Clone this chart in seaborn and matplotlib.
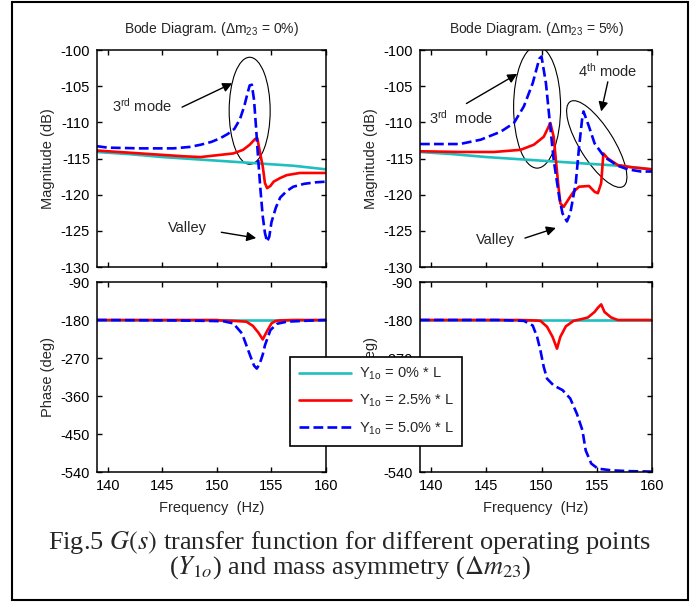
import matplotlib
matplotlib.use("Agg")
import matplotlib.pyplot as plt
import seaborn as sns
import numpy as np
import pandas as pd
from matplotlib.patches import Ellipse, Rectangle
from matplotlib.transforms import ScaledTranslation

# ---- data ----
# cyan: Y1o = 0% * L (same in both panels)
cyan_freq = [139, 142, 145, 148, 151, 154, 157, 160]
cyan_mag = [-114.1, -114.4, -114.8, -115.1, -115.4, -115.7, -116.0, -116.5]
cyan_phase = [-180, -180, -180, -180, -180, -180, -180, -180]

# left panel (dm23 = 0%)
red0_freq = [139, 141, 143, 145, 147, 148.5, 150.3, 151.5, 152.4, 153.0, 153.5, 153.7, 153.9,
             154.2, 154.4, 154.6, 154.9, 155.2, 155.8, 156.4, 157.6, 160]
red0_mag = [-113.9, -114.1, -114.3, -114.5, -114.7, -114.8, -114.5, -114.3, -113.8, -113.1, -112.3,
            -112.2, -113.8, -116.1, -118.4, -119.1, -118.8, -118.2, -117.7, -117.3, -117.0, -117.0]
blue0_freq = [139, 140, 143, 146, 147.5, 148.5, 149.5, 150.3, 151.0, 151.6, 152.1, 152.5, 152.8,
              153.0, 153.2, 153.4, 153.6, 153.8, 154.0, 154.2, 154.4, 154.6, 154.8, 155.0, 155.4,
              155.8, 156.4, 157.0, 158.0, 159.0, 160]
blue0_mag = [-113.3, -113.5, -113.6, -113.6, -113.4, -113.1, -112.7, -112.2, -111.6, -110.9, -109.6,
             -107.8, -106.0, -104.9, -104.8, -106.9, -111.0, -115.5, -119.5, -123.0, -125.3, -126.5,
             -125.8, -123.8, -121.8, -120.4, -119.5, -118.9, -118.5, -118.3, -118.2]
red0_pfreq = [139, 150, 150.3, 151.5, 152.7, 153.3, 153.8, 154.2, 154.6, 155.0, 155.4, 155.8, 157, 160]
red0_phase = [-180, -180, -181, -182, -184, -194, -210, -226, -206, -188, -182, -181, -180, -180]
blue0_pfreq = [139, 146, 149, 150.6, 151.5, 152.3, 152.7, 153.1, 153.4, 153.65, 153.9, 154.2, 154.4,
               154.9, 155.5, 156.4, 158, 160]
blue0_phase = [-180, -181, -182, -183, -188, -212, -240, -268, -288, -295, -285, -262, -240, -204,
               -189, -184, -182, -180]

# right panel (dm23 = 5%)
red5_freq = [139, 142.6, 145.7, 148.1, 149.3, 150.2, 150.8, 151.1, 151.3, 151.5, 151.7, 152.0, 152.5,
             152.9, 153.4, 154.3, 154.8, 155.1, 155.4, 155.6, 156.0, 156.9, 158.1, 160]
red5_mag = [-114.0, -114.1, -114.1, -113.8, -113.1, -112.0, -110.1, -112.0, -115.2, -118.4, -121.2,
            -121.7, -120.5, -119.6, -118.9, -118.8, -119.6, -119.8, -118.4, -114.3, -115.0, -115.9,
            -116.2, -116.5]
blue5_freq = [139, 142.6, 144.5, 146.3, 147.5, 148.4, 149.2, 149.8, 150.0, 150.4, 150.7, 151.1, 151.6,
              151.9, 152.3, 152.6, 153.1, 153.4, 153.7, 153.8, 154.3, 154.8, 155.7, 156.9, 157.8,
              159.0, 160]
blue5_mag = [-113.0, -113.0, -112.4, -111.3, -110.1, -107.8, -104.6, -101.2, -100.9, -104.6, -109.2,
             -115.2, -120.3, -122.6, -123.7, -122.6, -118.4, -113.4, -109.2, -108.5, -110.6, -112.9,
             -114.8, -116.0, -116.5, -116.8, -116.8]
red5_pfreq = [139, 148, 149.3, 149.9, 150.5, 151.0, 151.4, 151.7, 152.2, 152.9, 153.6, 154.2, 154.8,
              155.1, 155.4, 155.7, 156.3, 156.9, 160]
red5_phase = [-180, -180, -181, -182, -196, -220, -248, -220, -195, -182, -178, -174, -161, -151,
              -143, -161, -174, -180, -180]
blue5_pfreq = [139, 146, 148.4, 149.2, 149.6, 149.9, 150.2, 150.5, 151.1, 151.9, 152.6, 153.2, 153.7,
               154.0, 154.5, 155.1, 156.3, 158, 160]
blue5_phase = [-180, -180, -182, -193, -220, -252, -291, -319, -335, -346, -366, -402, -441, -489,
               -520, -532, -536, -538, -539]

labels = ['Y$\\mathregular{_{1o}}$ = 0% * L', 'Y$\\mathregular{_{1o}}$ = 2.5% * L',
          'Y$\\mathregular{_{1o}}$ = 5.0% * L']
titles = ['Bode Diagram. (\u0394m$\\mathregular{_{23}}$ = 0%)',
          'Bode Diagram. (\u0394m$\\mathregular{_{23}}$ = 5%)']

CYAN = '#1fbfbf'
RED = '#ff0000'
BLUE = '#0000ff'

sns.set_style("ticks")
plt.rcParams['font.family'] = ['Liberation Sans', 'DejaVu Sans']
plt.rcParams['axes.unicode_minus'] = False
plt.rcParams['xtick.direction'] = 'in'
plt.rcParams['ytick.direction'] = 'in'
plt.rcParams['xtick.top'] = True
plt.rcParams['ytick.right'] = True
plt.rcParams['axes.linewidth'] = 1.1
plt.rcParams['xtick.major.width'] = 1.0
plt.rcParams['ytick.major.width'] = 1.0
plt.rcParams['xtick.major.size'] = 3.5
plt.rcParams['ytick.major.size'] = 3.5

W, H = 692, 602
fig = plt.figure(figsize=(W / 100, H / 100), dpi=100)


def add_ax(x0, x1, y0, y1):
    return fig.add_axes([x0 / W, 1 - y1 / H, (x1 - x0) / W, (y1 - y0) / H])


ax_m0 = add_ax(97, 326, 50, 267)
ax_p0 = add_ax(97, 326, 282, 472)
ax_m5 = add_ax(420, 652, 50, 267)
ax_p5 = add_ax(420, 652, 282, 472)

lw = 1.9


def draw(ax, red_y, blue_y, cyan_y, red_x, blue_x, lab=None):
    sns.lineplot(x=cyan_freq, y=cyan_y, ax=ax, color=CYAN, lw=lw, label=lab[0] if lab else None)
    sns.lineplot(x=red_x, y=red_y, ax=ax, color=RED, lw=lw, label=lab[1] if lab else None)
    sns.lineplot(x=blue_x, y=blue_y, ax=ax, color=BLUE, lw=lw, linestyle='--', dashes=(4, 2.6),
                 label=lab[2] if lab else None)


draw(ax_m0, red0_mag, blue0_mag, cyan_mag, red0_freq, blue0_freq, labels)
draw(ax_p0, red0_phase, blue0_phase, cyan_phase, red0_pfreq, blue0_pfreq)
draw(ax_m5, red5_mag, blue5_mag, cyan_mag, red5_freq, blue5_freq)
draw(ax_p5, red5_phase, blue5_phase, cyan_phase, red5_pfreq, blue5_pfreq)

handles, _ = ax_m0.get_legend_handles_labels()
ax_m0.get_legend().remove()

fs = 10.5
for ax, t in [(ax_m0, titles[0]), (ax_m5, titles[1])]:
    ax.set_ylim(-130, -100)
    ax.set_yticks(np.arange(-130, -99, 5))
    ax.set_ylabel('Magnitude (dB)', fontsize=fs, labelpad=4)
    ax.set_title(t, fontsize=10, pad=12)
for ax in [ax_p0, ax_p5]:
    ax.set_ylim(-540, -90)
    ax.set_yticks(np.arange(-540, -89, 90))
    ax.set_ylabel('Phase (deg)', fontsize=fs, labelpad=4)
    ax.set_xlabel('Frequency  (Hz)', fontsize=fs, labelpad=6)
for ax in [ax_m0, ax_m5, ax_p0, ax_p5]:
    ax.set_xlim(139, 160)
    ax.set_xticks([140, 145, 150, 155, 160])
    ax.tick_params(labelsize=fs, colors='k', pad=5)
    for s in ax.spines.values():
        s.set_color('k')
for ax in [ax_m0, ax_m5]:
    ax.set_xlabel('')
    ax.set_xticklabels([])


def ellipse(ax, f, m, w_px, h_px, angle=0):
    tr = fig.dpi_scale_trans + ScaledTranslation(f, m, ax.transData)
    e = Ellipse((0, 0), w_px / 100, h_px / 100, angle=angle, transform=tr,
                fill=False, edgecolor='k', lw=0.8)
    ax.add_artist(e)


arrow = dict(arrowstyle='-|>', color='k', lw=1.0, mutation_scale=14, shrinkA=0, shrinkB=0)
afs = 10.5

# left annotations
ellipse(ax_m0, 153.0, -108.4, 41, 107)
ax_m0.text(140.4, -107.7, '3$\\mathregular{^{rd}}$ mode', fontsize=afs, va='center', ha='left')
ax_m0.annotate('', xy=(151.4, -104.6), xytext=(146.8, -107.9), arrowprops=arrow)
ax_m0.text(147.3, -124.6, 'Valley', fontsize=afs, va='center', ha='center')
ax_m0.annotate('', xy=(153.6, -126.0), xytext=(150.4, -125.2), arrowprops=arrow)

# right annotations
ellipse(ax_m5, 149.6, -107.9, 47, 122)
ellipse(ax_m5, 155.0, -113.0, 100, 34, angle=-58)
ax_m5.text(139.8, -109.3, '3$\\mathregular{^{rd}}$  mode', fontsize=afs, va='center', ha='left')
ax_m5.annotate('', xy=(147.8, -103.3), xytext=(143.2, -107.4), arrowprops=arrow)
ax_m5.text(156.0, -102.9, '4$\\mathregular{^{th}}$ mode', fontsize=afs, va='center', ha='center')
ax_m5.annotate('', xy=(155.4, -108.5), xytext=(156.0, -104.4), arrowprops=arrow)
ax_m5.text(145.8, -126.2, 'Valley', fontsize=afs, va='center', ha='center')
ax_m5.annotate('', xy=(151.3, -124.6), xytext=(148.5, -126.0), arrowprops=arrow)

leg = fig.legend(handles, labels, loc='upper left', bbox_to_anchor=(290 / W, 1 - 357 / H),
                 bbox_transform=fig.transFigure, fontsize=fs, frameon=True, fancybox=False,
                 edgecolor='k', framealpha=1, borderaxespad=0, handlelength=3.6,
                 labelspacing=0.75, borderpad=0.6, handletextpad=0.5)
leg.get_frame().set_linewidth(1.2)

# caption
cfs = 19
fig.text(350 / W, 1 - 543 / H, 'Fig.5 $\\mathit{G(s)}$ transfer function for different operating points',
         fontsize=cfs, family='Liberation Serif', math_fontfamily='stix', ha='center', va='center')
fig.text(350 / W, 1 - 568 / H, '($Y_{\\mathit{1o}}$) and mass asymmetry ($\\Delta m_{\\mathit{23}}$)',
         fontsize=cfs, family='Liberation Serif', math_fontfamily='stix', ha='center', va='center')

fig.add_artist(Rectangle((12 / W, 1 - 600 / H), 676 / W, 598 / H, transform=fig.transFigure,
                         fill=False, edgecolor='k', lw=1.5))

fig.savefig('out.png', dpi=100)
